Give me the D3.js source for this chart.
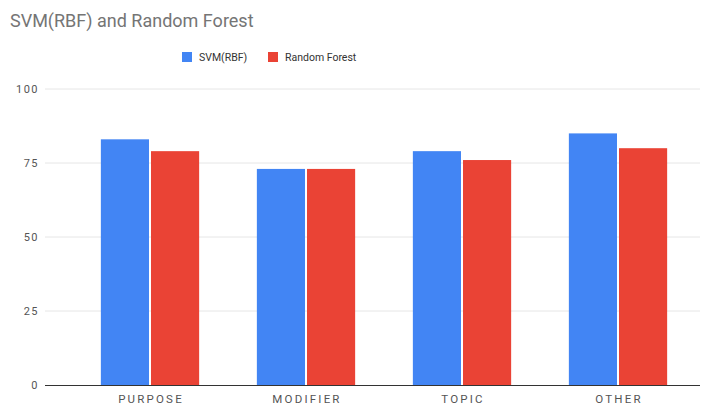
<!DOCTYPE html>
<html><head><meta charset="utf-8">
<script src="https://cdn.jsdelivr.net/npm/d3@7"></script>
<style>body{margin:0;background:#fff;}svg{display:block;font-family:Roboto,Arial,sans-serif;}</style>
</head><body><svg id="c" width="713" height="411"></svg>
<script>
const categories = ["PURPOSE","MODIFIER","TOPIC","OTHER"];
const seriesNames = ["SVM(RBF)","Random Forest"];
const svmValues = [83,73,79,85];
const rfValues = [79,73,76,80];
const yTicks = [0,25,50,75,100];
const colors = ["#4285F4","#EA4335"];

const svg = d3.select("#c");
const plotL = 45, plotR = 700, plotT = 89, plotB = 385;
const x = d3.scaleBand().domain(categories).range([72,696]).paddingInner(0.37).paddingOuter(0.185);
const x1 = d3.scaleBand().domain(seriesNames).range([0,x.bandwidth()]).paddingInner(0.04);
const y = d3.scaleLinear().domain([0,100]).range([plotB,plotT]);

svg.append("text").attr("x",10).attr("y",27).attr("fill","#757575").attr("font-size",18).text("SVM(RBF) and Random Forest");

// grid
svg.append("g").selectAll("line").data(yTicks.filter(d=>d>0)).join("line")
  .attr("x1",plotL).attr("x2",plotR).attr("y1",d=>y(d)).attr("y2",d=>y(d))
  .attr("stroke","#e6e6e6").attr("stroke-width",1);

const yAxis = d3.axisLeft(y).tickValues(yTicks).tickSize(0).tickPadding(6);
const gy = svg.append("g").attr("transform",`translate(${plotL},0)`).call(yAxis);
gy.select(".domain").remove();
gy.selectAll("text").attr("fill","#555").attr("font-size",11).attr("letter-spacing",1.5).attr("font-family","Roboto,Arial,sans-serif");

const data = categories.map((c,i)=>({cat:c, vals:[svmValues[i], rfValues[i]]}));
const g = svg.append("g").selectAll("g").data(data).join("g").attr("transform",d=>`translate(${x(d.cat)},0)`);
g.selectAll("rect").data(d=>d.vals.map((v,j)=>({s:seriesNames[j],v,j}))).join("rect")
  .attr("x",d=>x1(d.s)).attr("width",x1.bandwidth())
  .attr("y",d=>y(d.v)).attr("height",d=>y(0)-y(d.v)).attr("fill",d=>colors[d.j]);

svg.append("line").attr("x1",plotL).attr("x2",plotR).attr("y1",y(0)+0.5).attr("y2",y(0)+0.5).attr("stroke","#333").attr("stroke-width",1);

const xAxis = d3.axisBottom(x).tickSize(0).tickPadding(10);
const gx = svg.append("g").attr("transform",`translate(0,${plotB})`).call(xAxis);
gx.select(".domain").remove();
gx.selectAll("text").attr("fill","#555").attr("font-size",11.5).attr("letter-spacing",2.2).attr("dx",1).attr("font-family","Roboto,Arial,sans-serif");

// legend
const leg = svg.append("g").attr("transform","translate(182,52)");
const items = [{n:seriesNames[0],c:colors[0],x:0},{n:seriesNames[1],c:colors[1],x:86}];
items.forEach(it=>{
  leg.append("rect").attr("x",it.x).attr("y",0).attr("width",10).attr("height",10).attr("fill",it.c);
  leg.append("text").attr("x",it.x+17).attr("y",9).attr("font-size",10.5).attr("fill","#333").text(it.n);
});
</script></body></html>
